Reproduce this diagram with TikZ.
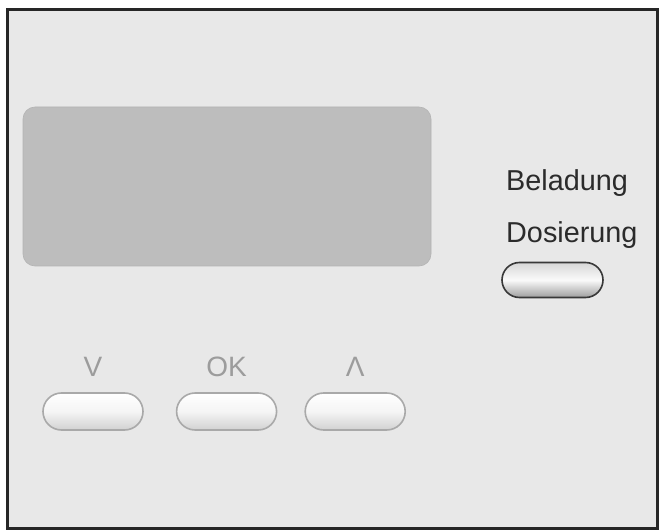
\documentclass[tikz,border=0pt]{standalone}
\usepackage{fontspec}
\setmainfont{Liberation Sans}
\usetikzlibrary{positioning}
\usetikzlibrary{shapes.misc}

\definecolor{panelgray}{HTML}{E8E8E8}
\definecolor{lcdgray}{HTML}{BDBDBD}
\definecolor{keyedge}{HTML}{A9A9A9}
\definecolor{keytext}{HTML}{9C9C9C}
\definecolor{darktext}{HTML}{2B2B2B}

\begin{document}
\begin{tikzpicture}
	[	x=1pt, y=-1pt,
		panel/.style={draw=black!85,line width=3pt,fill=panelgray},
		lcd/.style={rectangle,rounded corners=12pt,fill=lcdgray,draw=lcdgray!95!black,line width=0.6pt,
			minimum width=408pt,minimum height=159pt,inner sep=0pt},
		key/.style={rounded rectangle,draw=keyedge,line width=1.6pt,
			top color=white,bottom color=black!18,middle color=black!4,
			minimum width=100pt,minimum height=37pt,inner sep=0pt},
		dkey/.style={key,draw=black!78,line width=1.6pt,
			top color=black!16,bottom color=black!38,middle color=black!2,
			minimum width=101pt,minimum height=35pt},
		keylbl/.style={text=keytext,font=\fontsize{28}{34}\selectfont,inner sep=0pt,text depth=0pt},
		txt/.style={text=darktext,font=\fontsize{28.8}{34}\selectfont,inner sep=0pt}	]
	\useasboundingbox (0,0) rectangle (665,532);
	\draw[panel] (7,10) rectangle (657,528);
	\node[lcd] (display) at (227,186.5) {};
	% keys below the display
	\node[key] (down) at (93,411.5) {};
	\node[key] (ok) [right = 32pt of down] {};
	\node[key] (up) [right = 27pt of ok] {};
	\node[keylbl] (downlbl) [above = 15pt of down] {V};
	\node[keylbl] (oklbl) [above = 15pt of ok] {OK};
	\node[keylbl] (uplbl) [above = 15pt of up] {Λ};
	% right hand key
	\node[dkey] (dos) at (552.5,280) {};
	\node[txt,anchor=base west] (dostxt) at (506,243) {Dosierung};
	\node[txt,anchor=base west] (beltxt) at (506,191) {Beladung};
\end{tikzpicture}
\end{document}
